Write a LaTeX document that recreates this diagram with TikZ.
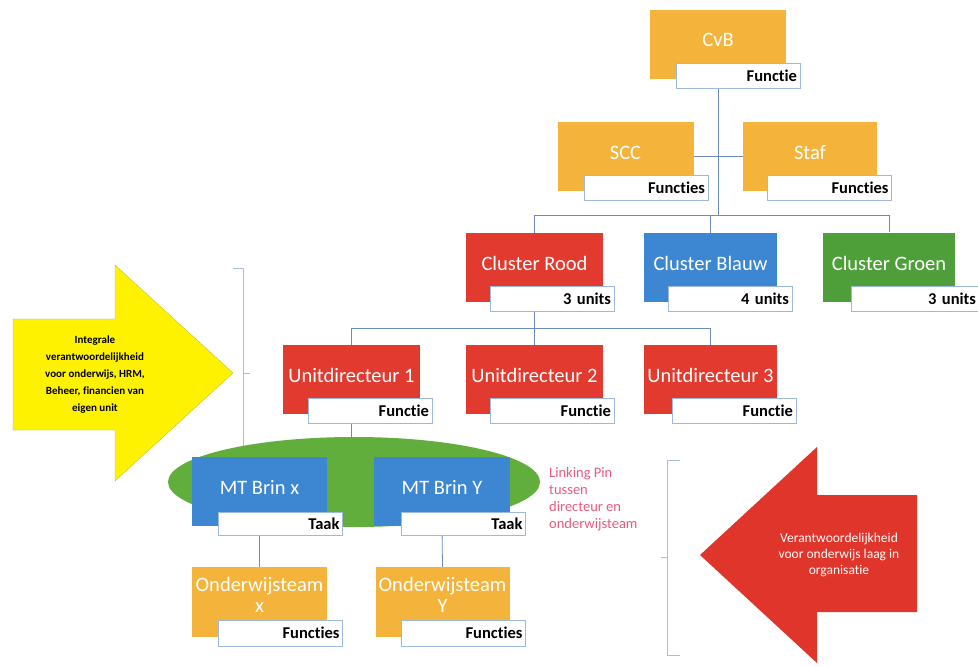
\documentclass[tikz,border=0pt]{standalone}
\usepackage{fontspec}
\setmainfont{Carlito}[Ligatures=NoCommon]
\usetikzlibrary{backgrounds}
\pgfdeclarelayer{bottom}
\pgfsetlayers{bottom,background,main}
\definecolor{orgorange}{HTML}{F4B43C}
\definecolor{orgred}{HTML}{E23A2E}
\definecolor{orgblue}{HTML}{3D86D2}
\definecolor{orggreen}{HTML}{4E9F3A}
\definecolor{ellgreen}{HTML}{62AE3C}
\definecolor{linecol}{HTML}{6A8CC0}
\definecolor{labborder}{HTML}{9DB8DD}
\definecolor{bracecol}{HTML}{A8BEDC}
\definecolor{arrowred}{HTML}{E0352B}
\definecolor{pinkcol}{HTML}{EA5A80}
\begin{document}
\begin{tikzpicture}[x=1pt,y=-1pt,
  orgbox/.style={minimum width=136pt,minimum height=69pt,inner sep=0pt},
  orgtext/.style={text=white,font=\fontsize{20.5}{21}\selectfont,align=center,inner sep=0pt,yshift=4pt},
  lab/.style={draw=labborder,line width=0.6pt,fill=white,minimum height=25pt,
    text width=118pt,align=right,inner sep=3pt,font=\bfseries\fontsize{16.5}{16.5}\selectfont},
  conn/.style={draw=linecol,line width=0.8pt},
  bracepath/.style={draw=bracecol,line width=0.9pt}]
\useasboundingbox (0,0) rectangle (978,667);
\begin{pgfonlayer}{bottom}
\fill[white] (0,0) rectangle (978,667);
\end{pgfonlayer}

% arrows
\fill[yellow,draw=yellow!70!black,line width=0.3pt] (13,319) -- (115,319) -- (115,265) -- (233,373) -- (115,481) -- (115,430) -- (13,430) -- cycle;
\node[align=center,font=\bfseries\fontsize{11}{17}\selectfont] (yt) at (95,375) {Integrale\\verantwoordelijkheid\\voor onderwijs, HRM,\\Beheer, financien van\\eigen unit};

\fill[arrowred] (700,555) -- (817,447) -- (817,495) -- (917,495) -- (917,612) -- (817,612) -- (817,663) -- cycle;
\node[align=center,text=white,font=\fontsize{13.5}{16}\selectfont] (rt) at (839,555) {Verantwoordelijkheid\\voor onderwijs laag in\\organisatie};

% ellipse
\fill[ellgreen] (354,482) ellipse [x radius=186, y radius=45];

% boxes
\node[orgbox,fill=orgorange,label={[orgtext]center:CvB}] (cvb) at (718,44) {};
\node[lab] (cvbl) at (738,75.5) {Functie};
\node[orgbox,fill=orgorange,label={[orgtext]center:SCC}] (scc) at (625.5,156.5) {};
\node[lab] (sccl) at (646,187.5) {Functies};
\node[orgbox,fill=orgorange,minimum width=134pt,label={[orgtext]center:Staf}] (staf) at (810,156.5) {};
\node[lab] (stafl) at (829.5,187.5) {Functies};

\node[orgbox,fill=orgred,minimum width=137pt,label={[orgtext]center:Cluster Rood}] (rood) at (534.5,267.5) {};
\node[lab] (roodl) at (552,298.5) {3 units};
\node[orgbox,fill=orgblue,minimum width=133pt,label={[orgtext]center:Cluster Blauw}] (blauw) at (710.5,267.5) {};
\node[lab] (blauwl) at (730,298.5) {4 units};
\node[orgbox,fill=orggreen,minimum width=132pt,label={[orgtext]center:Cluster Groen}] (groen) at (889,267) {};
\node[lab,text width=122pt] (groenl) at (915,298.5) {3 units};

\node[orgbox,fill=orgred,minimum width=137pt,label={[orgtext]center:Unitdirecteur 1}] (u1) at (351.5,379.5) {};
\node[lab] (u1l) at (370,410.5) {Functie};
\node[orgbox,fill=orgred,minimum width=137pt,label={[orgtext]center:Unitdirecteur 2}] (u2) at (534.5,379.5) {};
\node[lab] (u2l) at (552,410.5) {Functie};
\node[orgbox,fill=orgred,minimum width=133pt,label={[orgtext]center:Unitdirecteur 3}] (u3) at (710.5,379.5) {};
\node[lab] (u3l) at (734,410.5) {Functie};

\node[orgbox,fill=orgblue,minimum width=135pt,label={[orgtext]center:MT Brin x}] (mtx) at (259.5,491.5) {};
\node[lab,minimum height=23pt] (mtxl) at (280.5,523.5) {Taak};
\node[orgbox,fill=orgblue,minimum width=136pt,label={[orgtext]center:MT Brin Y}] (mty) at (442,491.5) {};
\node[lab,minimum height=23pt] (mtyl) at (463.5,523.5) {Taak};

\node[orgbox,fill=orgorange,minimum width=135pt,minimum height=70pt,label={[orgtext,yshift=3pt]center:Onderwijsteam\\x}] (ondx) at (259.5,602) {};
\node[lab,minimum height=26pt] (ondxl) at (280.5,633) {Functies};
\node[orgbox,fill=orgorange,minimum width=134pt,minimum height=70pt,label={[orgtext,yshift=3pt]center:Onderwijsteam\\Y}] (ondy) at (442.5,602) {};
\node[lab,minimum height=26pt] (ondyl) at (463.5,633) {Functies};

% linking pin text
\node[anchor=north west,align=left,text=pinkcol,inner sep=0pt,font=\fontsize{14.5}{17}\selectfont] (pin) at (549,467) {Linking Pin\\tussen\\directeur en\\onderwijsteam};

% connectors and braces behind
\begin{pgfonlayer}{background}
\coordinate (bus1) at (718,215);
\coordinate (bus2) at (534.5,328);
\coordinate (bus3) at (351.5,447);
\draw[conn] (cvb.south) -- (bus1);
\draw[conn] (scc.east) -- (staf.west);
\draw[conn] (rood.north) |- (bus1);
\draw[conn] (groen.north) |- (bus1);
\draw[conn] (blauw.north) -- (blauw.north |- bus1);
\draw[conn] (rood.south) -- (bus2);
\draw[conn] (u1.north) |- (bus2);
\draw[conn] (u3.north) |- (bus2);
\draw[conn] (u2.north) -- (bus2);
\draw[conn] (u1.south) -- (bus3);
\draw[conn] (mtx.north) |- (bus3);
\draw[conn] (mty.north) |- (bus3);
\draw[conn] (mtx.south) -- (ondx.north);
\draw[conn] (mty.south) -- (ondy.north);
\coordinate (b1t) at (233,268);
\coordinate (b1m) at (243,373);
\coordinate (b1b) at (233,478);
\draw[bracepath] (b1t) -- (b1t -| b1m) -- (b1b -| b1m) -- (b1b);
\draw[bracepath] (b1m) -- ++(7,0);
\coordinate (b2t) at (680,460);
\coordinate (b2m) at (667,557);
\coordinate (b2b) at (680,655);
\draw[bracepath] (b2t) -- (b2t -| b2m) -- (b2b -| b2m) -- (b2b);
\draw[bracepath] (b2m) -- ++(-6,0);
\end{pgfonlayer}
\end{tikzpicture}
\end{document}
